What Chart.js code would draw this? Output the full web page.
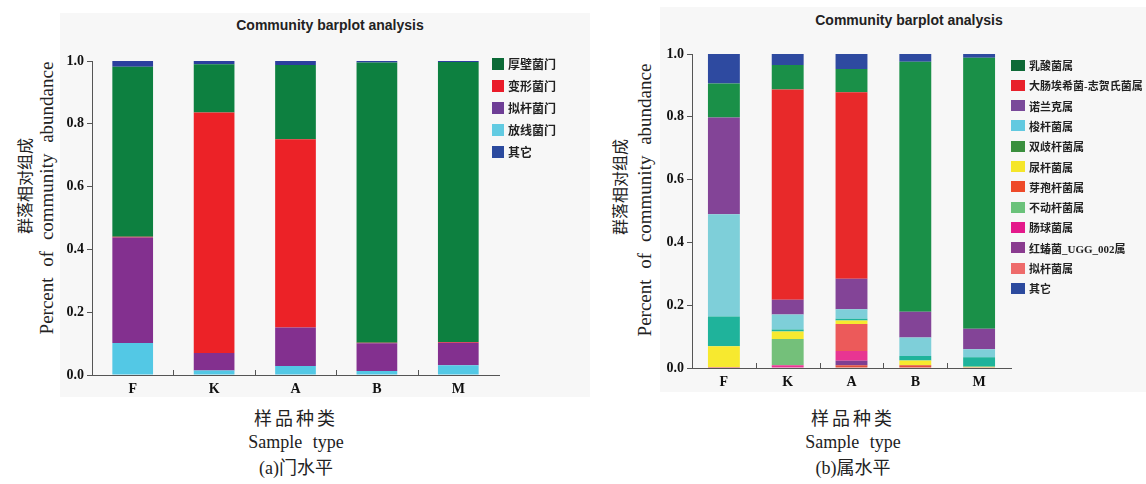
<!DOCTYPE html>
<html lang="zh-CN">

<head>
    <meta charset="UTF-8">
    <title>Community barplot analysis</title>
    <script src="https://cdn.jsdelivr.net/npm/chart.js"></script>
    <style>
        body {
            margin: 0;
            width: 1146px;
            height: 484px;
            background: #fff;
            position: relative;
            overflow: hidden;
            font-family: "Liberation Serif", "Noto Sans CJK SC", serif;
            color: #222;
        }

        .painel { position: absolute; background: #f7f7f7; }
        canvas { position: absolute; }

        .titulo {
            position: absolute;
            transform: translate(-50%, -50%);
            font: bold 14px "Liberation Sans", Arial, sans-serif;
            white-space: nowrap;
        }

        .ytit {
            position: absolute;
            transform: translate(-50%, -50%) rotate(-90deg);
            white-space: nowrap;
        }

        .cap {
            position: absolute;
            transform: translate(-50%, -50%);
            white-space: nowrap;
            font-size: 18px;
        }

        .legenda { position: absolute; }
        .legenda .item { position: absolute; display: flex; align-items: center; white-space: nowrap; }
        .legenda .cor { display: inline-block; margin-right: 4px; }
        .legenda span.txt { font-family: "Liberation Serif", "Noto Sans CJK SC", serif; font-weight: bold; }
    </style>
</head>

<body>
    <!-- painel (a) -->
    <div class="painel" style="left:60px; top:13px; width:530px; height:384px;"></div>
    <div class="titulo" style="left:330px; top:25px;">Community barplot analysis</div>
    <div class="ytit" style="left:24px; top:186px; font-size:16px;">群落相对组成</div>
    <div class="ytit" style="left:47px; top:198px; font-size:19px; word-spacing:6px;">Percent of community abundance</div>
    <canvas id="graficoFilo" width="530" height="384" style="left:60px; top:13px;"></canvas>
    <div class="legenda" id="legendaFilo" style="left:492px; top:0;"></div>
    <div class="cap" style="left:296px; top:417px; letter-spacing:3px;">样品种类</div>
    <div class="cap" style="left:296px; top:442px; word-spacing:6px;">Sample type</div>
    <div class="cap" style="left:296px; top:466px;">(a)门水平</div>

    <!-- painel (b) -->
    <div class="painel" style="left:660px; top:7px; width:486px; height:385px;"></div>
    <div class="titulo" style="left:909px; top:20px;">Community barplot analysis</div>
    <div class="ytit" style="left:619px; top:187px; font-size:16px;">群落相对组成</div>
    <div class="ytit" style="left:645px; top:200px; font-size:19px; word-spacing:6px;">Percent of community abundance</div>
    <canvas id="graficoGenero" width="486" height="385" style="left:660px; top:7px;"></canvas>
    <div class="legenda" id="legendaGenero" style="left:1011px; top:0;"></div>
    <div class="cap" style="left:853px; top:417px; letter-spacing:3px;">样品种类</div>
    <div class="cap" style="left:853px; top:442px; word-spacing:6px;">Sample type</div>
    <div class="cap" style="left:853px; top:466px;">(b)属水平</div>

<script>
    // dados
    const amostras = ["F", "K", "A", "B", "M"];
    const ticksY = [0, 0.2, 0.4, 0.6, 0.8, 1.0];

    // (a) nivel de filo - ordem da legenda
    const filos = ["厚壁菌门", "变形菌门", "拟杆菌门", "放线菌门", "其它"];
    const filoHoutbi = [0.542, 0.154, 0.236, 0.892, 0.892];
    const filoBianxing = [0.002, 0.766, 0.600, 0.002, 0.002];
    const filoNigan = [0.336, 0.056, 0.122, 0.088, 0.072];
    const filoFangxian = [0.102, 0.014, 0.029, 0.013, 0.031];
    const filoOutros = [0.018, 0.010, 0.013, 0.005, 0.003];
    const filoValores = [filoHoutbi, filoBianxing, filoNigan, filoFangxian, filoOutros];
    const filoPilha = [3, 2, 1, 0, 4]; // de baixo pra cima
    const filoCores = ["#0d8040", "#ec2227", "#83308f", "#53c8e5", "#2b3f9e"];
    const filoCoresLegenda = ["#0b6a36", "#ea1c2a", "#6e3e96", "#62cbe2", "#2b4a9e"];

    // (b) nivel de genero - ordem da legenda
    const generos = ["乳酸菌属", "大肠埃希菌-志贺氏菌属", "诺兰克属", "梭杆菌属", "双歧杆菌属", "尿杆菌属",
        "芽孢杆菌属", "不动杆菌属", "肠球菌属", "红蝽菌_UGG_002属", "拟杆菌属", "其它"];
    const genRuansuan = [0.108, 0.078, 0.074, 0.796, 0.863];
    const genDachang = [0, 0.670, 0.594, 0, 0];
    const genNuolanke = [0.308, 0.047, 0.097, 0.082, 0.065];
    const genSuogan = [0.326, 0.047, 0.030, 0.059, 0.026];
    const genShuangqi = [0.095, 0.007, 0.006, 0.014, 0.030];
    const genNiaogan = [0.066, 0.024, 0.011, 0.015, 0.002];
    const genYabao = [0, 0, 0.086, 0, 0];
    const genBudong = [0, 0.083, 0, 0, 0];
    const genChangqiu = [0, 0.009, 0.031, 0, 0];
    const genHongchun = [0, 0, 0.014, 0, 0];
    const genNigan = [0.003, 0, 0.009, 0.009, 0.002];
    const genOutros = [0.094, 0.035, 0.048, 0.025, 0.012];
    const generoValores = [genRuansuan, genDachang, genNuolanke, genSuogan, genShuangqi, genNiaogan,
        genYabao, genBudong, genChangqiu, genHongchun, genNigan, genOutros];
    const generoPilha = [10, 9, 8, 7, 6, 5, 4, 3, 2, 1, 0, 11];
    const generoCores = ["#1a9048", "#e8292a", "#834497", "#7ecfd9", "#1fb39b", "#f7e92f",
        "#ec5a5a", "#74c07a", "#e83592", "#7e3f92", "#e0503e", "#2e4aa0"];
    const generoCoresLegenda = ["#0f6a37", "#e8212b", "#7a4a9a", "#62c9e0", "#3a8f3e", "#f5e62a",
        "#ee4a2a", "#6ac27a", "#e4198b", "#8a3b8f", "#ee6b6b", "#2c4a9e"];

    // ticks pequenos pra dentro entre as categorias
    const ticksInternos = {
        id: 'ticksInternos',
        afterDraw(chart) {
            const x = chart.scales.x;
            const base = chart.chartArea.bottom;
            const ctx = chart.ctx;
            ctx.save();
            ctx.strokeStyle = '#555';
            ctx.lineWidth = 1;
            for (let i = 0; i < x.ticks.length - 1; i++) {
                const px = Math.round((x.getPixelForTick(i) + x.getPixelForTick(i + 1)) / 2) + 0.5;
                ctx.beginPath();
                ctx.moveTo(px, base);
                ctx.lineTo(px, base - 5);
                ctx.stroke();
            }
            ctx.restore();
        }
    };

    function montarGrafico(idCanvas, nomes, valores, pilha, cores, pad, alturaX) {
        const datasets = pilha.map(function (i) {
            return {
                label: nomes[i],
                data: valores[i],
                backgroundColor: cores[i],
                borderWidth: 0
            };
        });

        const fonteTick = { family: 'Liberation Serif', weight: 'bold', size: 14 };

        return new Chart(document.getElementById(idCanvas), {
            type: 'bar',
            data: { labels: amostras, datasets: datasets },
            options: {
                responsive: false,
                animation: false,
                layout: { padding: pad },
                datasets: { bar: { barPercentage: 0.5, categoryPercentage: 1 } },
                plugins: { legend: { display: false }, tooltip: { enabled: false } },
                scales: {
                    x: {
                        stacked: true,
                        grid: { display: false, drawTicks: false },
                        border: { color: '#555' },
                        ticks: { padding: 6, color: '#111', font: fonteTick },
                        afterFit: function (s) { s.height = alturaX; }
                    },
                    y: {
                        stacked: true,
                        min: ticksY[0],
                        max: ticksY[ticksY.length - 1],
                        afterBuildTicks: function (s) { s.ticks = ticksY.map(v => ({ value: v })); },
                        grid: { drawOnChartArea: false, tickLength: 5, color: '#555' },
                        border: { color: '#555' },
                        ticks: {
                            padding: 3, color: '#111', font: fonteTick,
                            callback: function (v) { return Number(v).toFixed(1); }
                        },
                        afterFit: function (s) { s.width = 32; }
                    }
                }
            },
            plugins: [ticksInternos]
        });
    }

    function montarLegenda(idDiv, nomes, cores, topo, passo, larg, alt, tamFonte) {
        const div = document.getElementById(idDiv);
        nomes.forEach(function (nome, i) {
            div.innerHTML += `
            <div class="item" style="top:${topo + i * passo - 8}px; height:16px;">
                <span class="cor" style="width:${larg}px; height:${alt}px; background:${cores[i]};"></span>
                <span class="txt" style="font-size:${tamFonte}px;">${nome}</span>
            </div>`;
        });
    }

    montarGrafico('graficoFilo', filos, filoValores, filoPilha, filoCores,
        { top: 48, right: 91, bottom: 0, left: 0 }, 22);
    montarGrafico('graficoGenero', generos, generoValores, generoPilha, generoCores,
        { top: 47, right: 135, bottom: 0, left: 0 }, 24);

    montarLegenda('legendaFilo', filos, filoCoresLegenda, 64, 22, 12, 12, 12);
    montarLegenda('legendaGenero', generos, generoCoresLegenda, 65, 20.3, 14, 11, 11);
</script>
</body>

</html>
